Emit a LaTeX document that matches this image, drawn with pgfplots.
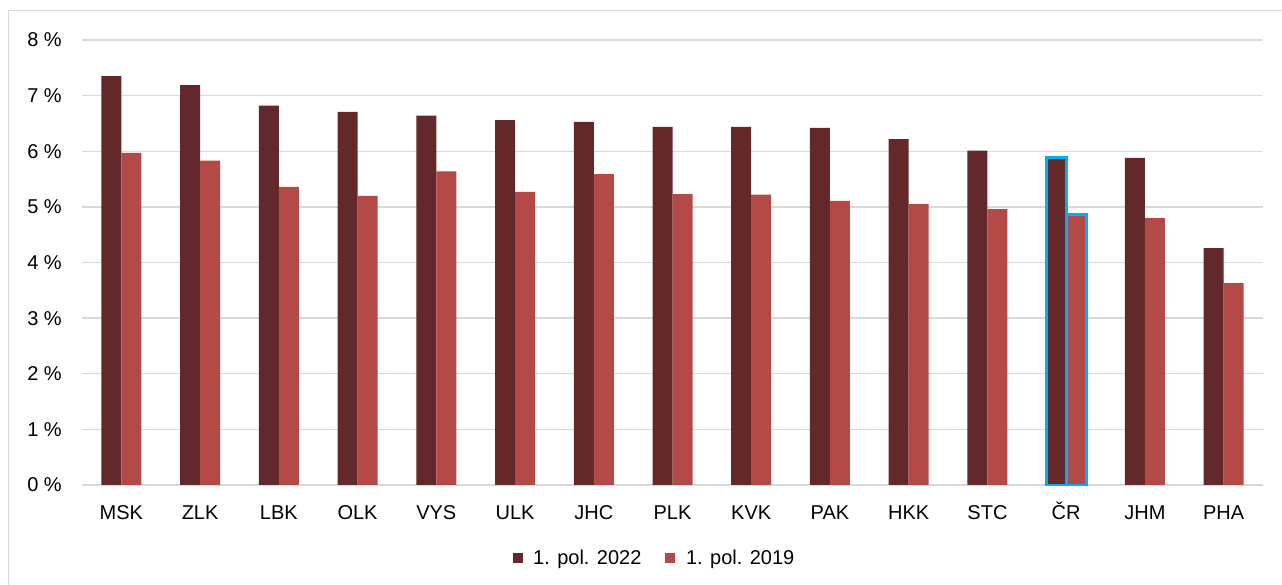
\documentclass[border=0pt]{standalone}
\usepackage{pgfplots}
\pgfplotsset{compat=1.18}
\usepackage{fontspec}
\setmainfont{Liberation Sans}
\definecolor{darkred}{HTML}{632829}
\definecolor{lightred}{HTML}{B44A47}
\definecolor{hl}{HTML}{00B0F0}
\definecolor{gridgray}{HTML}{D9D9D9}
\pgfplotstableread{
x y2022 y2019
0 7.35 5.97
1 7.19 5.83
2 6.82 5.36
3 6.71 5.20
4 6.64 5.64
5 6.56 5.27
6 6.53 5.59
7 6.44 5.23
8 6.44 5.22
9 6.42 5.11
10 6.22 5.05
11 6.01 4.96
12 5.89 4.86
13 5.88 4.80
14 4.26 3.63
}\datatable
\pgfplotstableread{
x y2022 y2019
12 5.89 4.86
}\crtable
\begin{document}
\begin{tikzpicture}
\path[use as bounding box] (0pt,0pt) rectangle (961.5pt,438.75pt);
\draw[gridgray, line width=0.75pt] (6.4pt,-5pt) -- (6.4pt,430.9pt) -- (970pt,430.9pt);
\begin{axis}[
  at={(61.5pt,75pt)}, anchor=south west,
  scale only axis,
  width=885.75pt, height=333.75pt,
  xmin=-0.5, xmax=14.5, ymin=0, ymax=8,
  ybar, bar width=15pt,
  axis line style={draw=none},
  ymajorgrids, grid style={gridgray, line width=1.1pt},
  ytick={0,1,...,8},
  yticklabel={\pgfmathprintnumber{\tick} \%},
  xtick=data,
  xticklabels={MSK,ZLK,LBK,OLK,VYS,ULK,JHC,PLK,KVK,PAK,HKK,STC,ČR,JHM,PHA},
  major tick length=0pt,
  tick style={draw=none},
  tick label style={font=\fontsize{15pt}{18pt}\selectfont, text=black},
  yticklabel style={anchor=east, inner sep=0pt, xshift=-15pt},
  xticklabel style={anchor=base, inner sep=0pt, yshift=-26.25pt},
  /pgf/number format/assume math mode=true,
  clip=false,
  legend columns=2,
  legend style={at={(0.485,-0.164)}, anchor=center, draw=none, fill=none,
    font=\fontsize{15pt}{18pt}\selectfont,
    /tikz/every odd column/.append style={column sep=6pt},
    /tikz/every even column/.append style={column sep=16pt}},
  legend image code/.code={\fill[#1] (0pt,-3.75pt) rectangle (7.5pt,3.75pt);},
]
\addplot[fill=darkred, draw=none, bar shift=-7.5pt] table[x=x,y=y2022]{\datatable};
\addlegendentry{1. pol. 2022}
\addplot[fill=lightred, draw=none, bar shift=7.5pt] table[x=x,y=y2019]{\datatable};
\addlegendentry{1. pol. 2019}
\addplot[fill=none, draw=hl, line width=2.2pt, bar shift=-7.5pt, forget plot] table[x=x,y=y2022]{\crtable};
\addplot[fill=none, draw=hl, line width=2.2pt, bar shift=7.5pt, forget plot] table[x=x,y=y2019]{\crtable};
\end{axis}
\end{tikzpicture}
\end{document}
